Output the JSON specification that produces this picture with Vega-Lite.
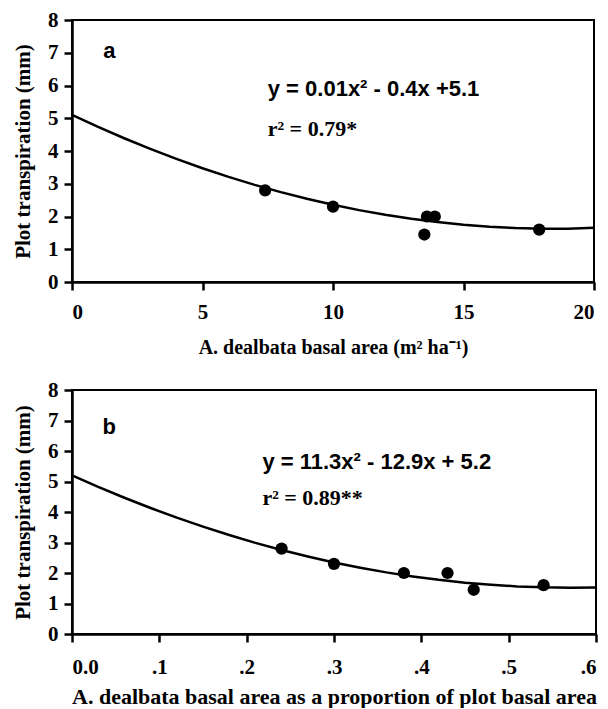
{
  "$schema": "https://vega.github.io/schema/vega-lite/v6.json",
  "padding": {"left": 11, "top": 8, "right": 4, "bottom": 0},
  "background": "white",
  "spacing": 108,
  "bounds": "flush",
  "config": {
    "view": {"stroke": "black", "strokeWidth": 2}
  },
  "datasets": {
    "ptsA": [
      {"x": 7.4, "y": 2.8}, {"x": 10.0, "y": 2.3}, {"x": 13.5, "y": 1.45},
      {"x": 13.6, "y": 2.0}, {"x": 13.9, "y": 2.0}, {"x": 17.9, "y": 1.6}
    ],
    "fitA": [
      {"x": 0, "y": 5.10}, {"x": 1, "y": 4.734}, {"x": 2, "y": 4.389}, {"x": 3, "y": 4.064},
      {"x": 4, "y": 3.759}, {"x": 5, "y": 3.474}, {"x": 6, "y": 3.210}, {"x": 7, "y": 2.966},
      {"x": 8, "y": 2.743}, {"x": 9, "y": 2.540}, {"x": 10, "y": 2.357}, {"x": 11, "y": 2.195},
      {"x": 12, "y": 2.052}, {"x": 13, "y": 1.931}, {"x": 14, "y": 1.829}, {"x": 15, "y": 1.748},
      {"x": 16, "y": 1.688}, {"x": 17, "y": 1.647}, {"x": 18, "y": 1.627}, {"x": 19, "y": 1.627},
      {"x": 20, "y": 1.66}
    ],
    "ptsB": [
      {"x": 0.24, "y": 2.8}, {"x": 0.30, "y": 2.3}, {"x": 0.38, "y": 2.0},
      {"x": 0.43, "y": 2.0}, {"x": 0.46, "y": 1.45}, {"x": 0.54, "y": 1.6}
    ],
    "fitB": [
      {"x": 0.0, "y": 5.2}, {"x": 0.03, "y": 4.823}, {"x": 0.06, "y": 4.467}, {"x": 0.09, "y": 4.131},
      {"x": 0.12, "y": 3.815}, {"x": 0.15, "y": 3.519}, {"x": 0.18, "y": 3.244}, {"x": 0.21, "y": 2.989},
      {"x": 0.24, "y": 2.755}, {"x": 0.27, "y": 2.541}, {"x": 0.30, "y": 2.347}, {"x": 0.33, "y": 2.174},
      {"x": 0.36, "y": 2.020}, {"x": 0.39, "y": 1.888}, {"x": 0.42, "y": 1.775}, {"x": 0.45, "y": 1.683},
      {"x": 0.48, "y": 1.612}, {"x": 0.51, "y": 1.560}, {"x": 0.54, "y": 1.529}, {"x": 0.57, "y": 1.518},
      {"x": 0.60, "y": 1.528}
    ],
    "sansA": [
      {"x": 1.2, "y": 7.05, "t": "a"},
      {"x": 7.5, "y": 5.9, "t": "y = 0.01x² - 0.4x +5.1"}
    ],
    "serifA": [
      {"x": 7.5, "y": 4.67, "t": "r² = 0.79*"}
    ],
    "sansB": [
      {"x": 0.035, "y": 6.8, "t": "b"},
      {"x": 0.218, "y": 5.65, "t": "y = 11.3x² - 12.9x + 5.2"}
    ],
    "serifB": [
      {"x": 0.218, "y": 4.45, "t": "r² = 0.89**"}
    ]
  },
  "vconcat": [
    {
      "width": 522,
      "height": 262,
      "encoding": {
        "x": {"field": "x", "type": "quantitative", "scale": {"domain": [0, 20], "nice": false},
              "axis": {"values": [0, 5, 10, 15, 20], "title": "A. dealbata basal area (m² ha⁻¹)", "titlePadding": 15, "labelPadding": 11,
                       "grid": false, "domainColor": "black", "domainWidth": 2.5, "tickColor": "black", "tickWidth": 2.5, "tickSize": 8,
                       "labelFont": "Liberation Serif", "labelFontWeight": "bold", "labelFontSize": 21, "labelColor": "black", "labelOverlap": false,
                       "titleFont": "Liberation Serif", "titleFontWeight": "bold", "titleFontSize": 20, "titleColor": "black"}},
        "y": {"field": "y", "type": "quantitative", "scale": {"domain": [0, 8], "nice": false},
              "axis": {"values": [0, 1, 2, 3, 4, 5, 6, 7, 8], "title": "Plot transpiration (mm)", "titlePadding": 14, "labelPadding": 6,
                       "grid": false, "domainColor": "black", "domainWidth": 2.5, "tickColor": "black", "tickWidth": 2.5, "tickSize": 8,
                       "labelFont": "Liberation Serif", "labelFontWeight": "bold", "labelFontSize": 21, "labelColor": "black", "labelOverlap": false,
                       "titleFont": "Liberation Serif", "titleFontWeight": "bold", "titleFontSize": 21, "titleColor": "black"}}
      },
      "layer": [
        {
          "data": {"name": "fitA"},
          "mark": {"type": "line", "color": "black", "strokeWidth": 2.5}
        },
        {
          "data": {"name": "ptsA"},
          "mark": {"type": "point", "filled": true, "color": "black", "opacity": 1, "size": 150}
        },
        {
          "data": {"name": "sansA"},
          "mark": {"type": "text", "align": "left", "baseline": "middle", "fontWeight": "bold", "color": "black", "font": "Liberation Sans", "fontSize": 22},
          "encoding": {"text": {"field": "t"}}
        },
        {
          "data": {"name": "serifA"},
          "mark": {"type": "text", "align": "left", "baseline": "middle", "fontWeight": "bold", "color": "black", "font": "Liberation Serif", "fontSize": 22},
          "encoding": {"text": {"field": "t"}}
        }
      ]
    },
    {
      "width": 524,
      "height": 244,
      "encoding": {
        "x": {"field": "x", "type": "quantitative", "scale": {"domain": [0, 0.6], "nice": false},
              "axis": {"values": [0, 0.1, 0.2, 0.3, 0.4, 0.5, 0.6], "labelExpr": "datum.value === 0 ? '0.0' : replace(format(datum.value, '.1f'), '0.', '.')", "title": "A. dealbata basal area as a proportion of plot basal area", "titlePadding": 9, "labelPadding": 14,
                       "grid": false, "domainColor": "black", "domainWidth": 2.5, "tickColor": "black", "tickWidth": 2.5, "tickSize": 8,
                       "labelFont": "Liberation Serif", "labelFontWeight": "bold", "labelFontSize": 21, "labelColor": "black", "labelOverlap": false,
                       "titleFont": "Liberation Serif", "titleFontWeight": "bold", "titleFontSize": 22, "titleColor": "black"}},
        "y": {"field": "y", "type": "quantitative", "scale": {"domain": [0, 8], "nice": false},
              "axis": {"values": [0, 1, 2, 3, 4, 5, 6, 7, 8], "title": "Plot transpiration (mm)", "titlePadding": 14, "labelPadding": 6,
                       "grid": false, "domainColor": "black", "domainWidth": 2.5, "tickColor": "black", "tickWidth": 2.5, "tickSize": 8,
                       "labelFont": "Liberation Serif", "labelFontWeight": "bold", "labelFontSize": 21, "labelColor": "black", "labelOverlap": false,
                       "titleFont": "Liberation Serif", "titleFontWeight": "bold", "titleFontSize": 21, "titleColor": "black"}}
      },
      "layer": [
        {
          "data": {"name": "fitB"},
          "mark": {"type": "line", "color": "black", "strokeWidth": 2.5}
        },
        {
          "data": {"name": "ptsB"},
          "mark": {"type": "point", "filled": true, "color": "black", "opacity": 1, "size": 150}
        },
        {
          "data": {"name": "sansB"},
          "mark": {"type": "text", "align": "left", "baseline": "middle", "fontWeight": "bold", "color": "black", "font": "Liberation Sans", "fontSize": 22},
          "encoding": {"text": {"field": "t"}}
        },
        {
          "data": {"name": "serifB"},
          "mark": {"type": "text", "align": "left", "baseline": "middle", "fontWeight": "bold", "color": "black", "font": "Liberation Serif", "fontSize": 22},
          "encoding": {"text": {"field": "t"}}
        }
      ]
    }
  ]
}
